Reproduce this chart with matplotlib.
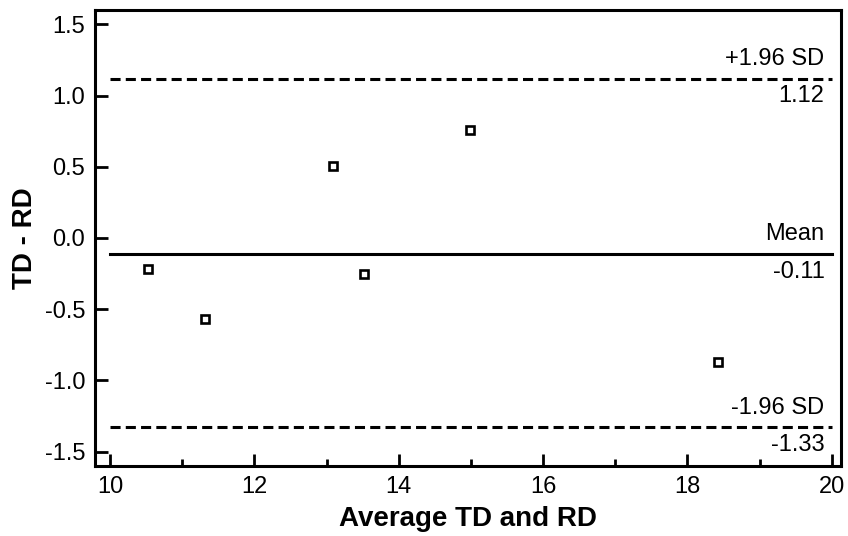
import numpy as np
import matplotlib.pyplot as plt
from matplotlib.ticker import MultipleLocator

plt.rcParams['font.family'] = ['Liberation Sans', 'DejaVu Sans']

# Bland-Altman: media e diferenca entre TD e RD
avg_td_rd = [10.53, 11.32, 13.09, 13.52, 14.99, 18.42]
diff_td_rd = [-0.22, -0.57, 0.505, -0.25, 0.76, -0.87]

mean_diff = -0.11
upper_loa = 1.12
lower_loa = -1.33

fig = plt.figure(figsize=(8.48, 5.36), dpi=100)
ax = fig.add_axes([0.112, 0.131, 0.880, 0.850])

ax.plot(avg_td_rd, diff_td_rd, linestyle='none', marker='s', markersize=6,
        markerfacecolor='white', markeredgecolor='black', markeredgewidth=1.9)

ax.plot([10, 20], [mean_diff, mean_diff], color='black', linewidth=2.2)
for val in (upper_loa, lower_loa):
    ax.plot([10, 20], [val, val], color='black', linewidth=2.2,
            linestyle=(0, (3.3, 1.7)))

# rotulos das linhas
labels = [('+1.96 SD', upper_loa, f'{upper_loa:.2f}'),
          ('Mean', mean_diff, f'{mean_diff:.2f}'),
          ('-1.96 SD', lower_loa, f'{lower_loa:.2f}')]
for name, val, txt in labels:
    ax.annotate(name, xy=(19.9, val), xytext=(0, 6), textcoords='offset points',
                ha='right', va='bottom', fontsize=17)
    ax.annotate(txt, xy=(19.9, val), xytext=(0, -5), textcoords='offset points',
                ha='right', va='top', fontsize=17)

ax.set_xlim(9.79, 20.13)
ax.set_ylim(-1.6, 1.6)
ax.xaxis.set_major_locator(MultipleLocator(2))
ax.xaxis.set_minor_locator(MultipleLocator(1))
ax.yaxis.set_major_locator(MultipleLocator(0.5))
ax.yaxis.set_major_formatter(plt.FuncFormatter(lambda v, p: f'{v:.1f}'))

ax.tick_params(which='major', direction='in', length=9, width=2, labelsize=17, pad=7)
ax.tick_params(which='minor', direction='in', length=5, width=2)
for s in ax.spines.values():
    s.set_linewidth(2.2)

ax.set_xlabel('Average TD and RD', fontsize=20, fontweight='bold', labelpad=6)
ax.set_ylabel('TD - RD', fontsize=20, fontweight='bold', labelpad=5)

plt.savefig('out.png', dpi=100)
